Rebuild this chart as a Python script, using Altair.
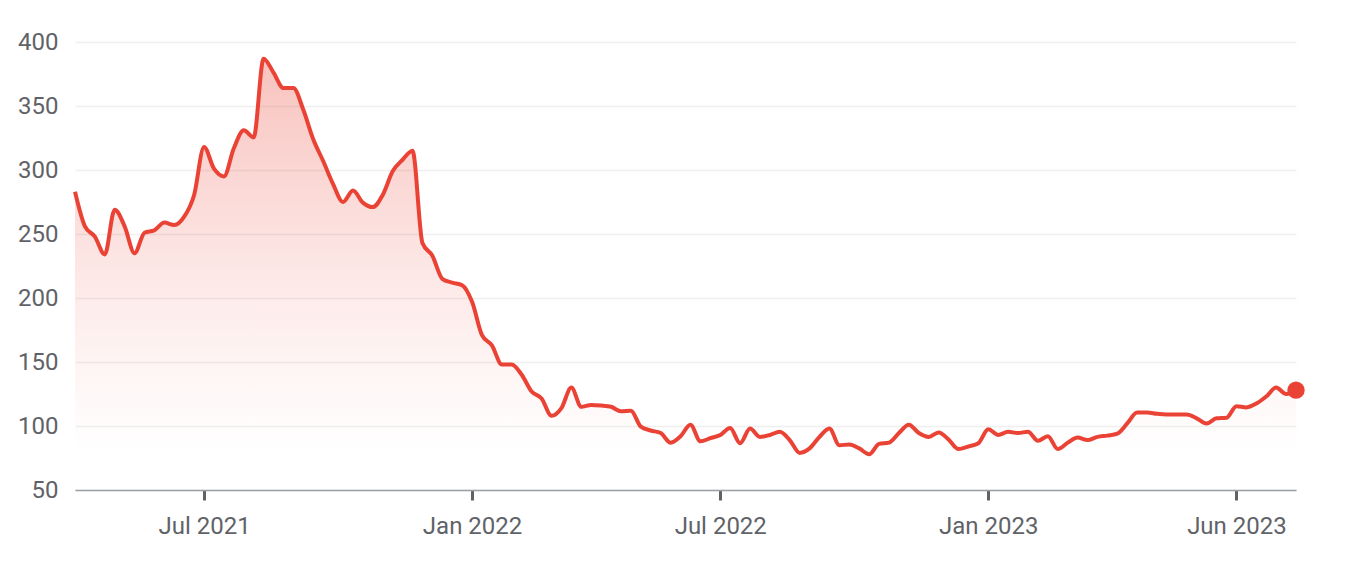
import altair as alt
import pandas as pd

# weekly observations (Fridays) starting 2021-04-02
start_date = "2021-04-02"
values = [
    283, 256, 248, 234, 269, 256, 235, 251, 253, 259,
    257, 263.5, 280.5, 318, 301, 295, 317, 331, 325.5, 387,
    376, 364, 364, 347, 324, 307, 289, 275, 284, 274.5,
    271, 280.5, 299, 308, 315, 243, 233, 215, 212, 210,
    197, 171, 163, 148, 148, 140, 127, 121.5, 108, 114,
    130, 115, 116.5, 116, 115, 111.5, 112, 99.5, 96.5, 94.5,
    87, 92, 101, 88, 90.5, 93, 98.5, 86.5, 98, 91.5,
    93, 95.5, 89, 79, 82.5, 91.5, 98, 85, 85.5, 82.5,
    78, 86, 87, 94.5, 101, 94.5, 91.5, 95, 89.5, 82,
    84, 86.5, 97.5, 93, 95.5, 94.5, 95.5, 88.5, 92, 82,
    87, 91, 89, 91.5, 92.5, 94, 102, 110.5, 110.5, 109.5,
    109, 109, 109, 106, 102, 106, 106.5, 115.5, 114.5, 117.5,
    123, 130, 125, 128,
]
dates = pd.date_range(start_date, periods=len(values), freq="7D")
tick_dates = [(2021, 7, 2), (2022, 1, 7), (2022, 7, 1), (2023, 1, 6), (2023, 6, 30)]
y_ticks = [50, 100, 150, 200, 250, 300, 350, 400]

df = pd.DataFrame({"date": dates.strftime("%Y-%m-%d"), "value": values})
last = df.tail(1)

RED = "#ea4335"
FONT = "Roboto"
LABEL_COLOR = "#5f6368"

x_enc = alt.X(
    "date:T",
    scale=alt.Scale(
        type="utc",
        domain=[alt.DateTime(year=2021, month=4, date=2, utc=True),
                alt.DateTime(year=2023, month=8, date=11, utc=True)],
        nice=False,
    ),
    axis=alt.Axis(
        values=[alt.DateTime(year=y, month=m, date=d, utc=True) for (y, m, d) in tick_dates],
        format="%b %Y",
        title=None,
        grid=False,
        domainColor="#9aa0a6",
        domainWidth=1.5,
        ticks=True,
        tickColor="#5f6368",
        tickWidth=3,
        tickSize=10,
        labelPadding=14,
        labelFont=FONT,
        labelFontSize=24,
        labelColor=LABEL_COLOR,
    ),
)
y_enc = alt.Y(
    "value:Q",
    scale=alt.Scale(domain=[50, 400], nice=False, zero=False),
    axis=alt.Axis(
        values=y_ticks,
        title=None,
        domain=False,
        ticks=False,
        tickSize=0,
        labelPadding=17,
        labelFont=FONT,
        labelFontSize=24,
        labelColor=LABEL_COLOR,
        gridColor="#efefef",
        gridWidth=1.5,
    ),
)

base = alt.Chart(df)

area = base.mark_area(
    interpolate="monotone",
    color=alt.Gradient(
        gradient="linear",
        stops=[
            alt.GradientStop(color="rgba(234,67,53,0.32)", offset=0),
            alt.GradientStop(color="rgba(234,67,53,0.12)", offset=0.5),
            alt.GradientStop(color="rgba(234,67,53,0.035)", offset=0.78),
            alt.GradientStop(color="rgba(234,67,53,0.0)", offset=0.92),
        ],
        x1=1, x2=1, y1=0, y2=1,
    ),
).encode(x=x_enc, y=y_enc, y2=alt.datum(50))

line = base.mark_line(interpolate="monotone", color=RED, strokeWidth=4).encode(
    x=x_enc, y=y_enc
)

dot = alt.Chart(last).mark_circle(color=RED, size=300, opacity=1).encode(
    x=x_enc, y=y_enc
)

chart = (
    alt.layer(area, line, dot)
    .properties(
        width=1221,
        height=448,
        autosize=alt.AutoSizeParams(type="none"),
        padding={"left": 67, "top": 34, "right": 40, "bottom": 60},
        background="white",
    )
    .configure_view(stroke=None)
)

chart.save("out.html", embed_options={"renderer": "svg", "actions": False})
